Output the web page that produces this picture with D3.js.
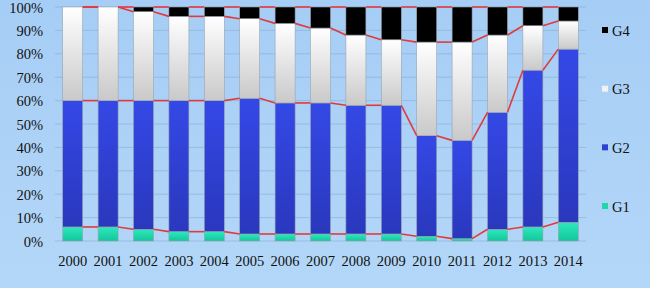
<!DOCTYPE html>
<html>
<head>
<meta charset="utf-8">
<script src="https://cdn.jsdelivr.net/npm/d3@7"></script>
<style>
  body { margin: 0; background: #fff; }
  svg { display: block; font-family: "Liberation Serif", "Times New Roman", serif; }
</style>
</head>
<body>
<div id="chart"></div>
<script>
const years = ["2000","2001","2002","2003","2004","2005","2006","2007","2008","2009","2010","2011","2012","2013","2014"]
const seriesNames = ["G1", "G2", "G3", "G4"]
const g1 = [6, 6, 5, 4, 4, 3, 3, 3, 3, 3, 2, 1, 5, 6, 8]
const g2 = [54, 54, 55, 56, 56, 58, 56, 56, 55, 55, 43, 42, 50, 67, 74]
const g3 = [40, 40, 38, 36, 36, 34, 34, 32, 30, 28, 40, 42, 33, 19, 12]
const g4 = [0, 0, 2, 4, 4, 5, 7, 9, 12, 14, 15, 15, 12, 8, 6]
const yTicks = [0, 10, 20, 30, 40, 50, 60, 70, 80, 90, 100]

const width = 659
const height = 288
const margin = { top: 7, right: 73, bottom: 47, left: 55 }

const rows = years.map((y, i) => ({ year: y, G1: g1[i], G2: g2[i], G3: g3[i], G4: g4[i] }))
const stacked = d3.stack().keys(seriesNames)(rows)

const svg = d3.select("#chart").append("svg")
  .attr("width", width)
  .attr("height", height)

const defs = svg.append("defs")

function grad(id, top, bottom) {
  const lg = defs.append("linearGradient")
    .attr("id", id)
    .attr("x1", 0).attr("y1", 0).attr("x2", 0).attr("y2", 1)
  lg.append("stop").attr("offset", "0%").attr("stop-color", top)
  lg.append("stop").attr("offset", "100%").attr("stop-color", bottom)
}
grad("bg", "#a6cdf5", "#b3d7f8")
grad("gG1", "#2ee8bc", "#12c79b")
grad("gG2", "#3448e6", "#2a38bd")
grad("gG3", "#ffffff", "#c9c9c9")
grad("gG4", "#000000", "#000000")

const fills = { G1: "url(#gG1)", G2: "url(#gG2)", G3: "url(#gG3)", G4: "url(#gG4)" }
const keyColors = { G1: "#1fd8aa", G2: "#2f40d2", G3: "#f2f2f2", G4: "#000000" }

svg.append("rect")
  .attr("width", 650)
  .attr("height", height)
  .attr("fill", "url(#bg)")

const x = d3.scaleBand()
  .domain(years)
  .range([margin.left, width - margin.right])
  .paddingInner(0.435)
  .paddingOuter(0.2175)

const y = d3.scaleLinear()
  .domain([0, 100])
  .range([height - margin.bottom, margin.top])

// gridlines
svg.append("g")
  .selectAll("line")
  .data(yTicks)
  .join("line")
  .attr("x1", margin.left)
  .attr("x2", width - margin.right)
  .attr("y1", d => y(d))
  .attr("y2", d => y(d))
  .attr("stroke", "#8fb3d6")
  .attr("stroke-width", 1)
  .attr("opacity", 0.7)

// bars
svg.append("g")
  .selectAll("g")
  .data(stacked)
  .join("g")
  .attr("fill", d => fills[d.key])
  .selectAll("rect")
  .data(d => d)
  .join("rect")
  .attr("x", d => x(d.data.year))
  .attr("width", x.bandwidth())
  .attr("y", d => y(d[1]))
  .attr("height", d => y(d[0]) - y(d[1]))
  .attr("stroke", "#9aa4b0")
  .attr("stroke-width", 0.6)

// series lines between bars
const lineG = svg.append("g")
stacked.forEach(layer => {
  for (let i = 0; i < layer.length - 1; i++) {
    lineG.append("line")
      .attr("x1", x(years[i]) + x.bandwidth())
      .attr("x2", x(years[i + 1]))
      .attr("y1", y(layer[i][1]))
      .attr("y2", y(layer[i + 1][1]))
      .attr("stroke", "#e23a3c")
      .attr("stroke-width", 1.6)
  }
})

// y axis labels
svg.append("g")
  .selectAll("text")
  .data(yTicks)
  .join("text")
  .attr("x", 43)
  .attr("y", d => y(d))
  .attr("dy", "0.38em")
  .attr("text-anchor", "end")
  .attr("font-size", 14.5)
  .attr("fill", "#111")
  .text(d => d + "%")

// x axis labels
svg.append("g")
  .selectAll("text")
  .data(years)
  .join("text")
  .attr("x", d => x(d) + x.bandwidth() / 2)
  .attr("y", 266)
  .attr("text-anchor", "middle")
  .attr("font-size", 14.5)
  .attr("fill", "#111")
  .text(d => d)

// legend
const legendY = d3.scalePoint()
  .domain(seriesNames.slice().reverse())
  .range([30, 206])

const legend = svg.append("g")
  .selectAll("g")
  .data(seriesNames)
  .join("g")
  .attr("transform", d => "translate(602," + legendY(d) + ")")

legend.append("rect")
  .attr("x", 0)
  .attr("y", -3)
  .attr("width", 6)
  .attr("height", 6)
  .attr("fill", d => keyColors[d])

legend.append("text")
  .attr("x", 10)
  .attr("y", 0)
  .attr("dy", "0.38em")
  .attr("font-size", 14.5)
  .attr("fill", "#111")
  .text(d => d)
</script>
</body>
</html>
